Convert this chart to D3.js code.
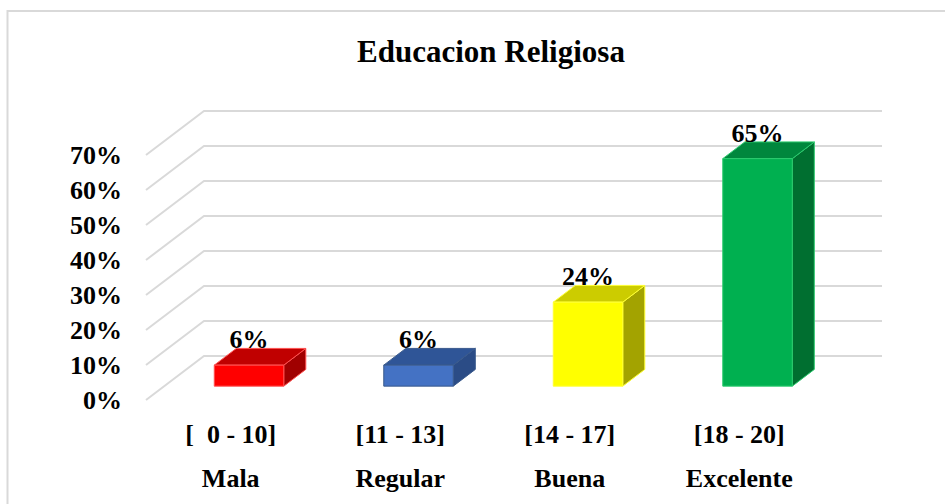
<!DOCTYPE html>
<html>
<head>
<meta charset="utf-8">
<script src="https://cdn.jsdelivr.net/npm/d3@7"></script>
<style>
  body { margin: 0; background: #fff; }
  text { font-family: "Liberation Serif", "Times New Roman", serif; font-weight: bold; fill: #000; }
</style>
</head>
<body>
<svg id="chart" width="945" height="504"></svg>
<script>
// data
var ranges = ['[  0 - 10]', '[11 - 13]', '[14 - 17]', '[18 - 20]'];
var names = ['Mala', 'Regular', 'Buena', 'Excelente'];
var values = [0.06, 0.06, 0.24, 0.65];
var labels = ['6%', '6%', '24%', '65%'];
var ticks = [0, 0.1, 0.2, 0.3, 0.4, 0.5, 0.6, 0.7];
var colors = [
  { front: '#FF0000', top: '#C00000', side: '#A00000', stroke: '#FF5050' },
  { front: '#4472C4', top: '#2F5597', side: '#2B4C86', stroke: '#3A5A8C' },
  { front: '#FFFF00', top: '#CCCC00', side: '#A3A300', stroke: '#FFFF33' },
  { front: '#00B050', top: '#00873D', side: '#006F30', stroke: '#2CCB6E' }
];

var svg = d3.select('#chart');

// frame
svg.append('rect')
  .attr('x', 7.5).attr('y', 11).attr('width', 960).attr('height', 520)
  .attr('fill', 'none').attr('stroke', '#d9d9d9').attr('stroke-width', 2);

svg.append('text')
  .attr('x', 491).attr('y', 62)
  .attr('text-anchor', 'middle')
  .style('font-size', '31px')
  .text('Educacion Religiosa');

// 3d projection: depth 0 = front plane, 1 = back wall
var depthX = 58, depthY = -44;
var x = d3.scaleBand().domain(d3.range(ranges.length)).range([146, 824]);
var y = d3.scaleLinear().domain([0, 0.7]).range([400, 155]);
function px(xv, d) { return xv + d * depthX; }
function py(yv, d) { return yv + d * depthY; }

// gridlines: diagonal on the side wall + horizontal on the back wall
var grid = svg.append('g').attr('stroke', '#d9d9d9').attr('stroke-width', 2).attr('fill', 'none');
ticks.forEach(function (t) {
  grid.append('path')
    .attr('d', 'M' + px(146, 0) + ',' + py(y(t), 0) +
      'L' + px(146, 1) + ',' + py(y(t), 1) +
      'L' + px(824, 1) + ',' + py(y(t), 1));
});

svg.append('g').selectAll('text')
  .data(ticks).enter().append('text')
  .attr('x', 122)
  .attr('y', function (d) { return y(d) + 9; })
  .attr('text-anchor', 'end')
  .style('font-size', '26px')
  .text(function (d) { return Math.round(d * 100) + '%'; });

// bars
var d1 = 0.315, d2 = 0.695, barFrac = 0.41;
var bars = svg.append('g');
values.forEach(function (v, i) {
  var bw = x.bandwidth() * barFrac;
  var x0 = x(i) + (x.bandwidth() - bw) / 2, x1 = x0 + bw;
  var yb = y(0), yt = y(v);
  var c = colors[i];
  function pt(xv, yv, d) { return px(xv, d) + ',' + py(yv, d); }
  // side
  bars.append('path')
    .attr('d', 'M' + pt(x1, yt, d1) + 'L' + pt(x1, yt, d2) + 'L' + pt(x1, yb, d2) + 'L' + pt(x1, yb, d1) + 'Z')
    .attr('fill', c.side).attr('stroke', c.stroke).attr('stroke-width', 1);
  // top
  bars.append('path')
    .attr('d', 'M' + pt(x0, yt, d1) + 'L' + pt(x0, yt, d2) + 'L' + pt(x1, yt, d2) + 'L' + pt(x1, yt, d1) + 'Z')
    .attr('fill', c.top).attr('stroke', c.stroke).attr('stroke-width', 1);
  // front
  bars.append('path')
    .attr('d', 'M' + pt(x0, yt, d1) + 'L' + pt(x1, yt, d1) + 'L' + pt(x1, yb, d1) + 'L' + pt(x0, yb, d1) + 'Z')
    .attr('fill', c.front).attr('stroke', c.stroke).attr('stroke-width', 1);
  // value label
  bars.append('text')
    .attr('x', px((x0 + x1) / 2, d1))
    .attr('y', py(yt, d1) - 17)
    .attr('text-anchor', 'middle')
    .style('font-size', '26px')
    .text(labels[i]);
});

// category labels
var cats = svg.append('g').attr('text-anchor', 'middle').style('font-size', '26px');
ranges.forEach(function (r, i) {
  var cx = x(i) + x.bandwidth() / 2;
  cats.append('text').attr('x', cx).attr('y', 443).attr('xml:space', 'preserve').text(r);
  cats.append('text').attr('x', cx).attr('y', 487).text(names[i]);
});
</script>
</body>
</html>
